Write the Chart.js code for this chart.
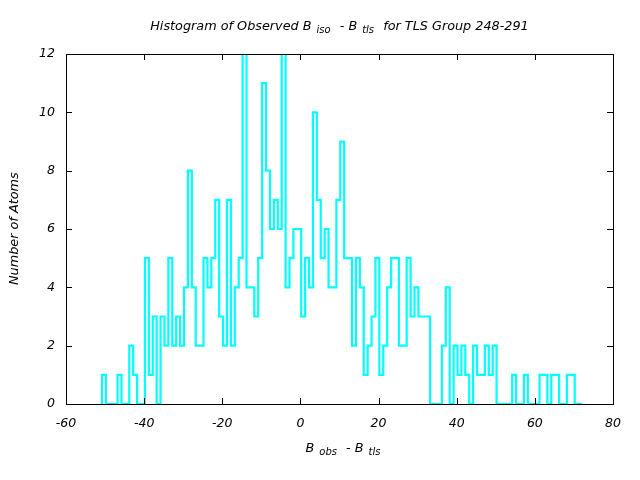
<!DOCTYPE html>
<html>
<head>
<meta charset="utf-8">
<script src="https://cdn.jsdelivr.net/npm/chart.js@4"></script>
<style>
  body { margin: 0; background: #fff; }
  #wrap { position: relative; width: 640px; height: 480px; }
  .lbl { position: absolute; font-family: "DejaVu Sans", sans-serif; font-style: italic; font-weight: normal; font-size: 12.8px; color: #000; white-space: nowrap; }
  .lbl sub { font-size: 10px; vertical-align: -3px; margin: 0 5px 0 5px; }
  #ylabel { writing-mode: vertical-rl; transform: rotate(180deg); }
</style>
</head>
<body>
<div id="wrap">
  <canvas id="chart" width="640" height="480"></canvas>
  <div class="lbl" id="title" style="left:66px; width:547px; top:18px; text-align:center;">Histogram of Observed B<sub>iso</sub> - B<sub>tls</sub> for TLS Group 248-291</div>
  <div class="lbl" id="xlabel" style="left:72px; width:547px; top:440px; text-align:center;">B<sub>obs</sub> - B<sub>tls</sub></div>
  <div class="lbl" id="ylabel" style="left:6px; top:169px; height:120px; text-align:center;">Number of Atoms</div>
</div>
<script>
// histogram bins: left edge of the first bin and bin width
const binStart = -50.8;
const binWidth = 1;
// number of atoms in each bin
const counts = [
  1, 0, 0, 0, 1, 0, 0, 2, 1, 0,
  0, 5, 1, 3, 0, 3, 2, 5, 2, 3,
  2, 4, 8, 4, 2, 2, 5, 4, 5, 7,
  3, 2, 7, 2, 4, 5, 12, 4, 4, 3,
  5, 11, 8, 6, 7, 6, 12, 4, 5, 6,
  6, 3, 5, 4, 10, 7, 5, 6, 4, 4,
  7, 9, 5, 5, 2, 5, 4, 1, 2, 3,
  5, 1, 2, 4, 5, 5, 2, 2, 5, 3,
  4, 3, 3, 3, 0, 0, 0, 2, 4, 0,
  2, 1, 2, 1, 0, 2, 1, 1, 2, 1,
  2, 0, 0, 0, 0, 1, 0, 0, 1, 0,
  0, 0, 1, 1, 0, 1, 1, 0, 0, 1,
  1, 0, 0
];
const xTicks = [-60, -40, -20, 0, 20, 40, 60, 80];
const yTicks = [0, 2, 4, 6, 8, 10, 12];

// outline of the histogram (histeps style)
const steps = [{ x: binStart, y: 0 }];
counts.forEach((c, i) => steps.push({ x: binStart + i * binWidth, y: c }));
steps.push({ x: binStart + counts.length * binWidth, y: 0 });

const tickFont = { family: 'DejaVu Sans', style: 'italic', size: 12.5 };

// gnuplot-like frame with inward ticks on all four sides
const frame = {
  id: 'frame',
  afterDraw(chart) {
    const { ctx, chartArea: a, scales } = chart;
    const len = 6;
    ctx.save();
    ctx.strokeStyle = '#000';
    ctx.lineWidth = 1;
    ctx.strokeRect(a.left + 0.5, a.top + 0.5, a.right - a.left, a.bottom - a.top);
    ctx.beginPath();
    xTicks.forEach(v => {
      const px = Math.round(scales.x.getPixelForValue(v)) + 0.5;
      ctx.moveTo(px, a.bottom); ctx.lineTo(px, a.bottom - len);
      ctx.moveTo(px, a.top); ctx.lineTo(px, a.top + len);
    });
    yTicks.forEach(v => {
      const py = Math.round(scales.y.getPixelForValue(v)) + 0.5;
      ctx.moveTo(a.left, py); ctx.lineTo(a.left + len, py);
      ctx.moveTo(a.right, py); ctx.lineTo(a.right - len, py);
    });
    ctx.stroke();
    ctx.restore();
  }
};

new Chart(document.getElementById('chart'), {
  type: 'line',
  data: {
    datasets: [{
      data: steps,
      stepped: 'before',
      borderColor: '#00ffff',
      borderWidth: 2.2,
      pointRadius: 0,
      fill: false
    }]
  },
  options: {
    responsive: false,
    animation: false,
    devicePixelRatio: 1,
    layout: { padding: { top: 54, right: 27, left: 0, bottom: 0 } },
    plugins: { legend: { display: false }, tooltip: { enabled: false } },
    scales: {
      x: {
        type: 'linear',
        min: -60, max: 80,
        afterBuildTicks: s => { s.ticks = xTicks.map(v => ({ value: v })); },
        afterFit: s => { s.height = 76; },
        grid: { display: false, drawTicks: false },
        border: { display: false },
        ticks: { color: '#000', font: tickFont, padding: 12, maxRotation: 0 }
      },
      y: {
        min: 0, max: 12,
        afterBuildTicks: s => { s.ticks = yTicks.map(v => ({ value: v })); },
        afterFit: s => { s.width = 66; },
        grid: { display: false, drawTicks: false },
        border: { display: false },
        ticks: { color: '#000', font: tickFont, padding: 11 }
      }
    }
  },
  plugins: [frame]
});
</script>
</body>
</html>
